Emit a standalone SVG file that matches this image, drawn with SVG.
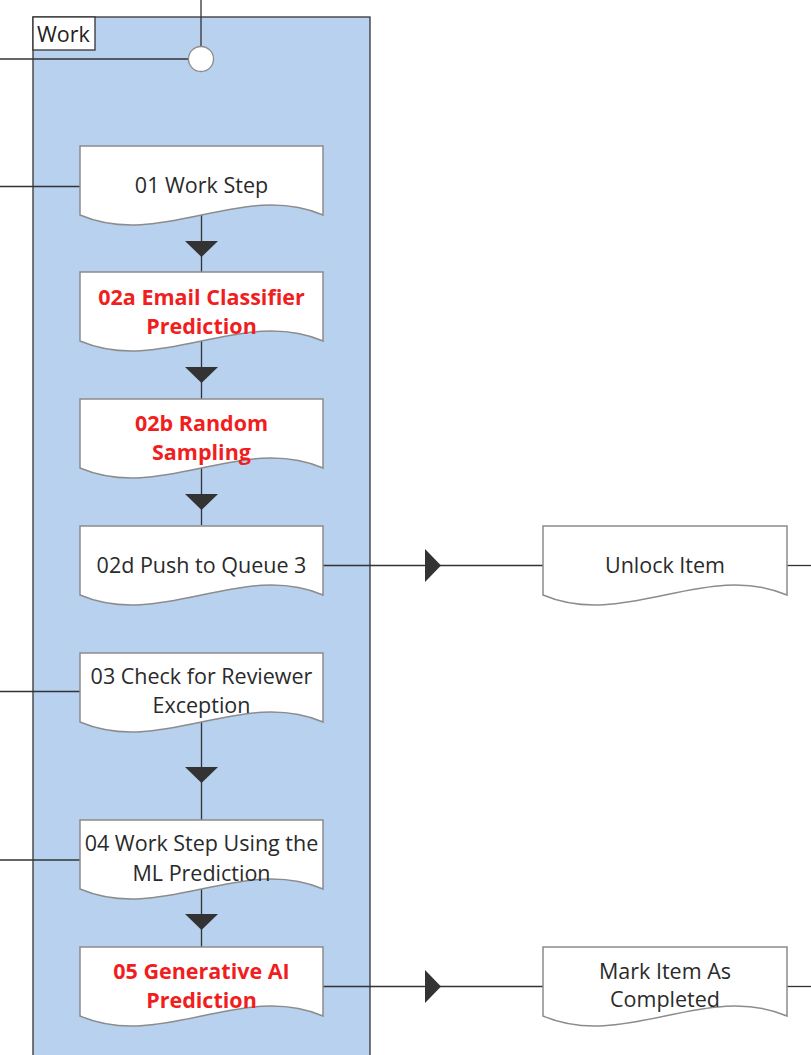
<svg xmlns="http://www.w3.org/2000/svg" width="811" height="1055" viewBox="0 0 811 1055">
<style>
.lane{fill:#b7d1ef;stroke:#333;stroke-width:1.3}
.doc{fill:#fff;stroke:#8c8c8c;stroke-width:1.5}
.conn line{stroke:#333;stroke-width:1.3}
.conn polygon{fill:#333}
.t{font-family:"Open Sans","Noto Sans",sans-serif;font-size:21.5px;fill:#2a2a2a;text-anchor:middle}
.r{font-family:"Open Sans","Noto Sans",sans-serif;font-size:21.5px;font-weight:bold;fill:#f01e1e;text-anchor:middle}
</style>
<rect width="811" height="1055" fill="#fff"/>
<g id="lane-work">
<rect class="lane" x="33" y="17" width="337" height="1050"/>
<rect x="33" y="17" width="62" height="33" fill="#fff" stroke="#333" stroke-width="1.3"/>
<text x="37" y="42" style="font-family:'Open Sans','Noto Sans',sans-serif;font-size:21.5px;fill:#222">Work</text>
</g>
<g class="conn" id="connectors">
<line x1="201" y1="0" x2="201" y2="47"/>
<line x1="0" y1="59" x2="189" y2="59"/>
<line x1="0" y1="186.5" x2="80" y2="186.5"/>
<line x1="0" y1="691.5" x2="80" y2="691.5"/>
<line x1="0" y1="860" x2="80" y2="860"/>
<line x1="201.5" y1="215" x2="201.5" y2="272"/>
<polygon points="185,241 218,241 201.5,257"/>
<line x1="201.5" y1="341" x2="201.5" y2="399"/>
<polygon points="185,367 218,367 201.5,383"/>
<line x1="201.5" y1="468" x2="201.5" y2="525"/>
<polygon points="185,494 218,494 201.5,510"/>
<line x1="201.5" y1="722" x2="201.5" y2="820"/>
<polygon points="185,767 218,767 201.5,783"/>
<line x1="201.5" y1="889" x2="201.5" y2="947"/>
<polygon points="185,914 218,914 201.5,930"/>
<line x1="323" y1="565.5" x2="543" y2="565.5"/>
<polygon points="425,549 441,565.5 425,582"/>
<line x1="787" y1="565.5" x2="811" y2="565.5"/>
<line x1="323" y1="986.5" x2="543" y2="986.5"/>
<polygon points="425,970 441,986.5 425,1003"/>
<line x1="787" y1="986.5" x2="811" y2="986.5"/>
</g>
<g id="start">
<circle cx="201" cy="59" r="12.5" fill="#fff" stroke="#8c8c8c" stroke-width="1.3"/>
</g>
<g id="n01">
<path class="doc" d="M80,146 H323 V215 C242,180.4 161,249.6 80,215 Z"/>
<text class="t" x="201.5" y="193">01 Work Step</text>
</g>
<g id="n02a">
<path class="doc" d="M80,272 H323 V341 C242,306.4 161,375.6 80,341 Z"/>
<text class="r" x="201.5" y="305">02a Email Classifier</text>
<text class="r" x="201.5" y="334">Prediction</text>
</g>
<g id="n02b">
<path class="doc" d="M80,399 H323 V468 C242,433.4 161,502.6 80,468 Z"/>
<text class="r" x="201.5" y="431">02b Random</text>
<text class="r" x="201.5" y="460">Sampling</text>
</g>
<g id="n02d">
<path class="doc" d="M80,526 H323 V595 C242,560.4 161,629.6 80,595 Z"/>
<text class="t" x="201.5" y="573">02d Push to Queue 3</text>
</g>
<g id="n03">
<path class="doc" d="M80,653 H323 V722 C242,687.4 161,756.6 80,722 Z"/>
<text class="t" x="201.5" y="683.5">03 Check for Reviewer</text>
<text class="t" x="201.5" y="713">Exception</text>
</g>
<g id="n04">
<path class="doc" d="M80,820 H323 V889 C242,854.4 161,923.6 80,889 Z"/>
<text class="t" x="201.5" y="851">04 Work Step Using the</text>
<text class="t" x="201.5" y="880.5">ML Prediction</text>
</g>
<g id="n05">
<path class="doc" d="M80,947 H323 V1016 C242,981.4 161,1050.6 80,1016 Z"/>
<text class="r" x="201.5" y="978.5">05 Generative AI</text>
<text class="r" x="201.5" y="1008">Prediction</text>
</g>
<g id="unlock">
<path class="doc" d="M543,526 H787 V595 C706,560.4 624,629.6 543,595 Z"/>
<text class="t" x="665" y="573">Unlock Item</text>
</g>
<g id="mark">
<path class="doc" d="M543,947 H787 V1016 C706,981.4 624,1050.6 543,1016 Z"/>
<text class="t" x="665" y="979">Mark Item As</text>
<text class="t" x="665" y="1007">Completed</text>
</g>
</svg>
